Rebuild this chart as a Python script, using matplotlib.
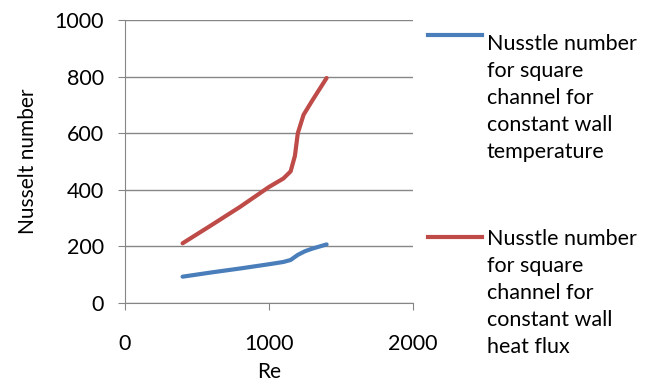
import matplotlib.pyplot as plt
from matplotlib.lines import Line2D

re_wall_temp = [400, 600, 800, 1000, 1100, 1150, 1200, 1250, 1300, 1400]
nu_wall_temp = [93, 108, 122, 137, 145, 152, 170, 183, 192, 207]

re_heat_flux = [400, 600, 800, 1000, 1100, 1150, 1180, 1200, 1240, 1300, 1400]
nu_heat_flux = [211, 275, 340, 410, 440, 465, 520, 600, 665, 715, 795]

label_temp = "Nusstle number\nfor square\nchannel for\nconstant wall\ntemperature"
label_flux = "Nusstle number\nfor square\nchannel for\nconstant wall\nheat flux"

blue = '#4A7EBB'
red = '#BE4B48'
grey = '#868686'

plt.rcParams['font.family'] = ['Lato', 'DejaVu Sans']

fig = plt.figure(figsize=(6.53, 3.88), dpi=100)
ax = fig.add_axes([125 / 653, 1 - 303 / 388, 288 / 653, 283 / 388])

ax.plot(re_wall_temp, nu_wall_temp, color=blue, linewidth=3, solid_capstyle='round')
ax.plot(re_heat_flux, nu_heat_flux, color=red, linewidth=3, solid_capstyle='round')

ax.set_xlim(0, 2000)
ax.set_ylim(0, 1000)
ax.set_xticks([0, 1000, 2000])
ax.set_yticks(range(0, 1001, 200))
ax.grid(axis='y', color=grey, linewidth=1)
ax.set_axisbelow(True)
for s in ['top', 'right']:
    ax.spines[s].set_visible(False)
for s in ['left', 'bottom']:
    ax.spines[s].set_color(grey)
ax.tick_params(axis='both', colors=grey, labelcolor='black', labelsize=15.5, length=5)
ax.tick_params(axis='x', pad=17)
ax.tick_params(axis='y', pad=10)
ax.set_xlabel('Re', fontsize=15, labelpad=6)
ax.set_ylabel('Nusselt number', fontsize=15, labelpad=12)

# legend drawn by hand to match the spacing
fig.add_artist(Line2D([428 / 653, 482 / 653], [1 - 35 / 388] * 2, color=blue, linewidth=3))
fig.add_artist(Line2D([428 / 653, 482 / 653], [1 - 237 / 388] * 2, color=red, linewidth=3))
fig.text(487 / 653, 1 - 158 / 388, label_temp, fontsize=15.5, va='baseline', linespacing=1.44)
fig.text(487 / 653, 1 - 353 / 388, label_flux, fontsize=15.5, va='baseline', linespacing=1.44)

fig.savefig('out.png', dpi=100)
